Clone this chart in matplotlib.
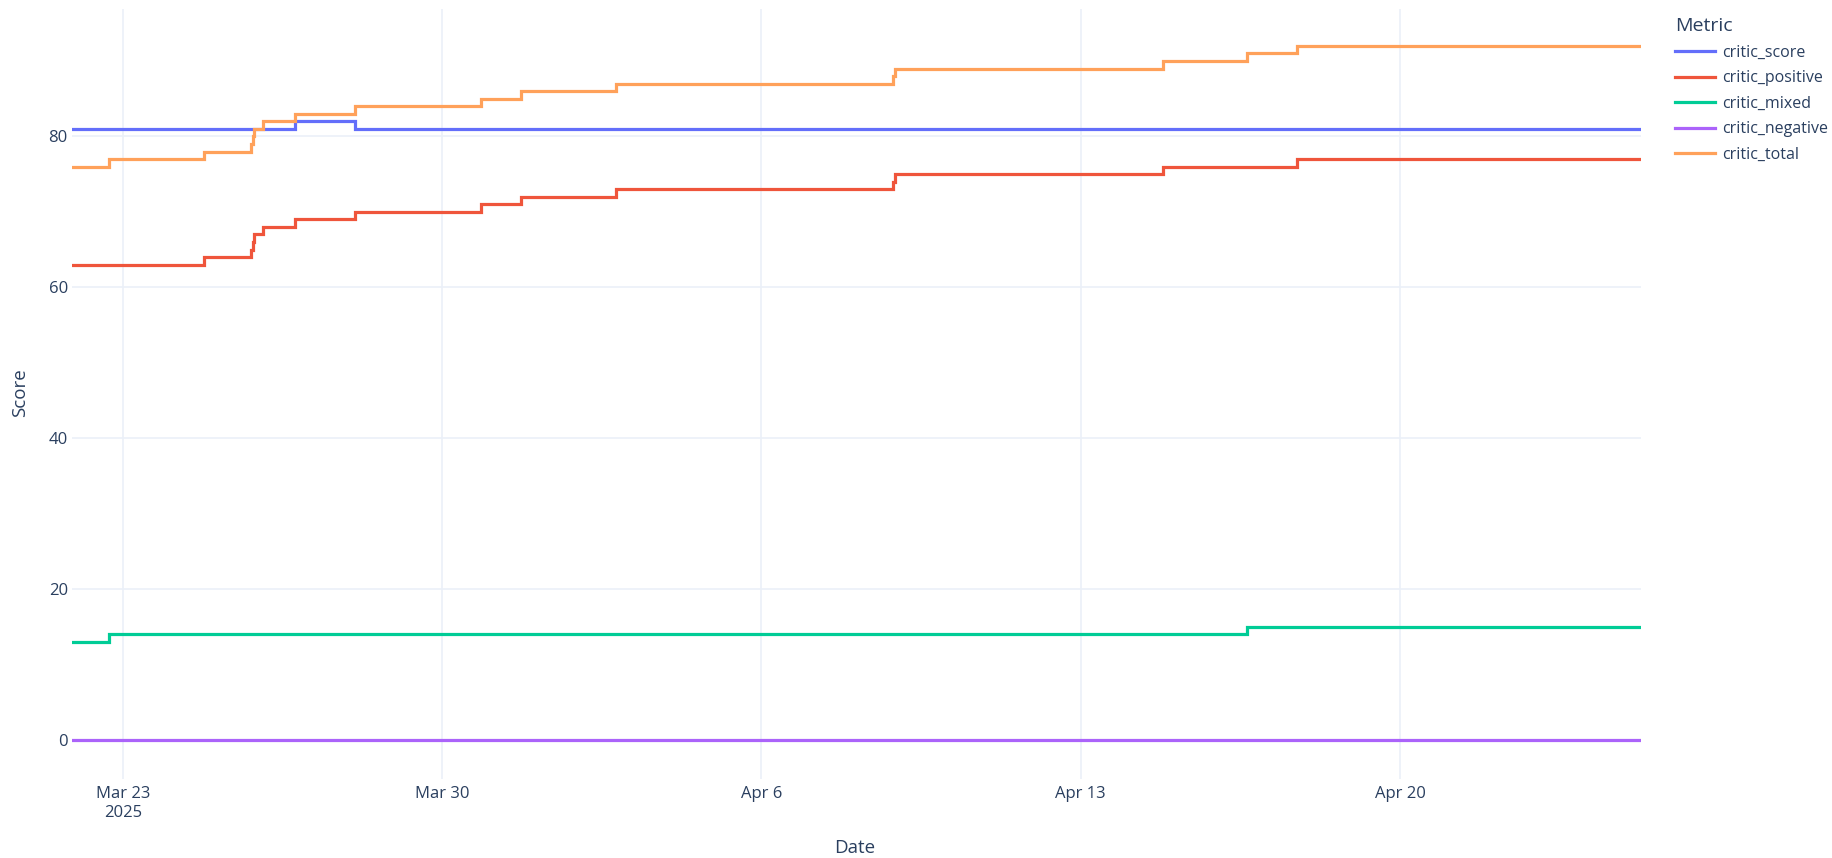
import matplotlib
matplotlib.use("Agg")
import matplotlib.pyplot as plt
import pandas as pd

# ---- data (change points; series held constant until next timestamp) ----
timestamps = [
    "2025-03-21 21:20", "2025-03-22 17:00", "2025-03-24 19:00", "2025-03-25 19:20",
    "2025-03-25 20:20", "2025-03-25 21:20", "2025-03-26 01:40", "2025-03-26 18:50",
    "2025-03-28 02:00", "2025-03-30 20:30", "2025-03-31 17:30", "2025-04-02 19:20",
    "2025-04-08 21:00", "2025-04-08 22:20", "2025-04-14 19:10", "2025-04-16 15:20",
    "2025-04-17 17:35", "2025-04-25 06:45",
]
critic_score    = [81, 81, 81, 81, 81, 81, 81, 82, 81, 81, 81, 81, 81, 81, 81, 81, 81, 81]
critic_positive = [63, 63, 64, 65, 66, 67, 68, 69, 70, 71, 72, 73, 74, 75, 76, 76, 77, 77]
critic_mixed    = [13, 14, 14, 14, 14, 14, 14, 14, 14, 14, 14, 14, 14, 14, 14, 15, 15, 15]
critic_negative = [0, 0, 0, 0, 0, 0, 0, 0, 0, 0, 0, 0, 0, 0, 0, 0, 0, 0]
critic_total    = [76, 77, 78, 79, 80, 81, 82, 83, 84, 85, 86, 87, 88, 89, 90, 91, 92, 92]

series_names = ["critic_score", "critic_positive", "critic_mixed", "critic_negative", "critic_total"]
series_values = [critic_score, critic_positive, critic_mixed, critic_negative, critic_total]
colors = ["#636EFA", "#EF553B", "#00CC96", "#AB63FA", "#FFA15A"]

xtick_dates = ["2025-03-23", "2025-03-30", "2025-04-06", "2025-04-13", "2025-04-20"]
xtick_labels = ["Mar 23\n2025", "Mar 30", "Apr 6", "Apr 13", "Apr 20"]
ytick_values = [0, 20, 40, 60, 80]

# ---- style ----
plt.rcParams["font.family"] = ["Open Sans", "DejaVu Sans"]
text_color = "#2a3f5f"
grid_color = "#EBF0F8"

W, H = 1833, 858
L, R, T, B = 72, 1641, 9, 779
fig = plt.figure(figsize=(W / 100, H / 100), dpi=100)
ax = fig.add_axes([L / W, 1 - B / H, (R - L) / W, (B - T) / H])

x = pd.to_datetime(timestamps)
for name, vals, c in zip(series_names, series_values, colors):
    ax.plot(x, vals, drawstyle="steps-post", color=c, lw=2.3, label=name,
            solid_joinstyle="miter", zorder=3)

ax.set_xlim(x[0], x[-1])
ax.set_ylim(-5.2, 96.9)

ax.set_xticks(pd.to_datetime(xtick_dates))
ax.set_xticklabels(xtick_labels)
ax.set_yticks(ytick_values)
ax.set_yticklabels([str(v) for v in ytick_values])

ax.grid(True, color=grid_color, lw=1.2, zorder=0)
ax.set_axisbelow(True)
for s in ax.spines.values():
    s.set_visible(False)
ax.tick_params(axis="both", length=0, colors=text_color, labelsize=12)
ax.tick_params(axis="x", pad=5)
ax.tick_params(axis="y", pad=3)
for lbl in ax.get_xticklabels():
    lbl.set_linespacing(1.25)

ax.set_xlabel("Date", color=text_color, fontsize=13.5)
ax.set_ylabel("Score", color=text_color, fontsize=13.5)
ax.xaxis.label.set_va("center")
ax.xaxis.label.set_ha("center")
ax.yaxis.label.set_va("center")
ax.yaxis.label.set_ha("center")
ax.xaxis.set_label_coords((855 - L) / (R - L), -(848 - B) / (B - T))
ax.yaxis.set_label_coords(-(L - 20) / (R - L), (B - 393) / (B - T))

leg = fig.legend(loc="upper left", bbox_to_anchor=(1675 / W, 1 - 17 / H),
                 frameon=False, title="Metric", fontsize=11.5, title_fontsize=14,
                 handlelength=2.5, handletextpad=0.45, labelspacing=0.6,
                 alignment="left", borderaxespad=0, borderpad=0)
for t in leg.get_texts():
    t.set_color(text_color)
leg.get_title().set_color(text_color)
for l in leg.get_lines():
    l.set_linewidth(2.3)

fig.savefig("out.png", dpi=100, facecolor="white")
